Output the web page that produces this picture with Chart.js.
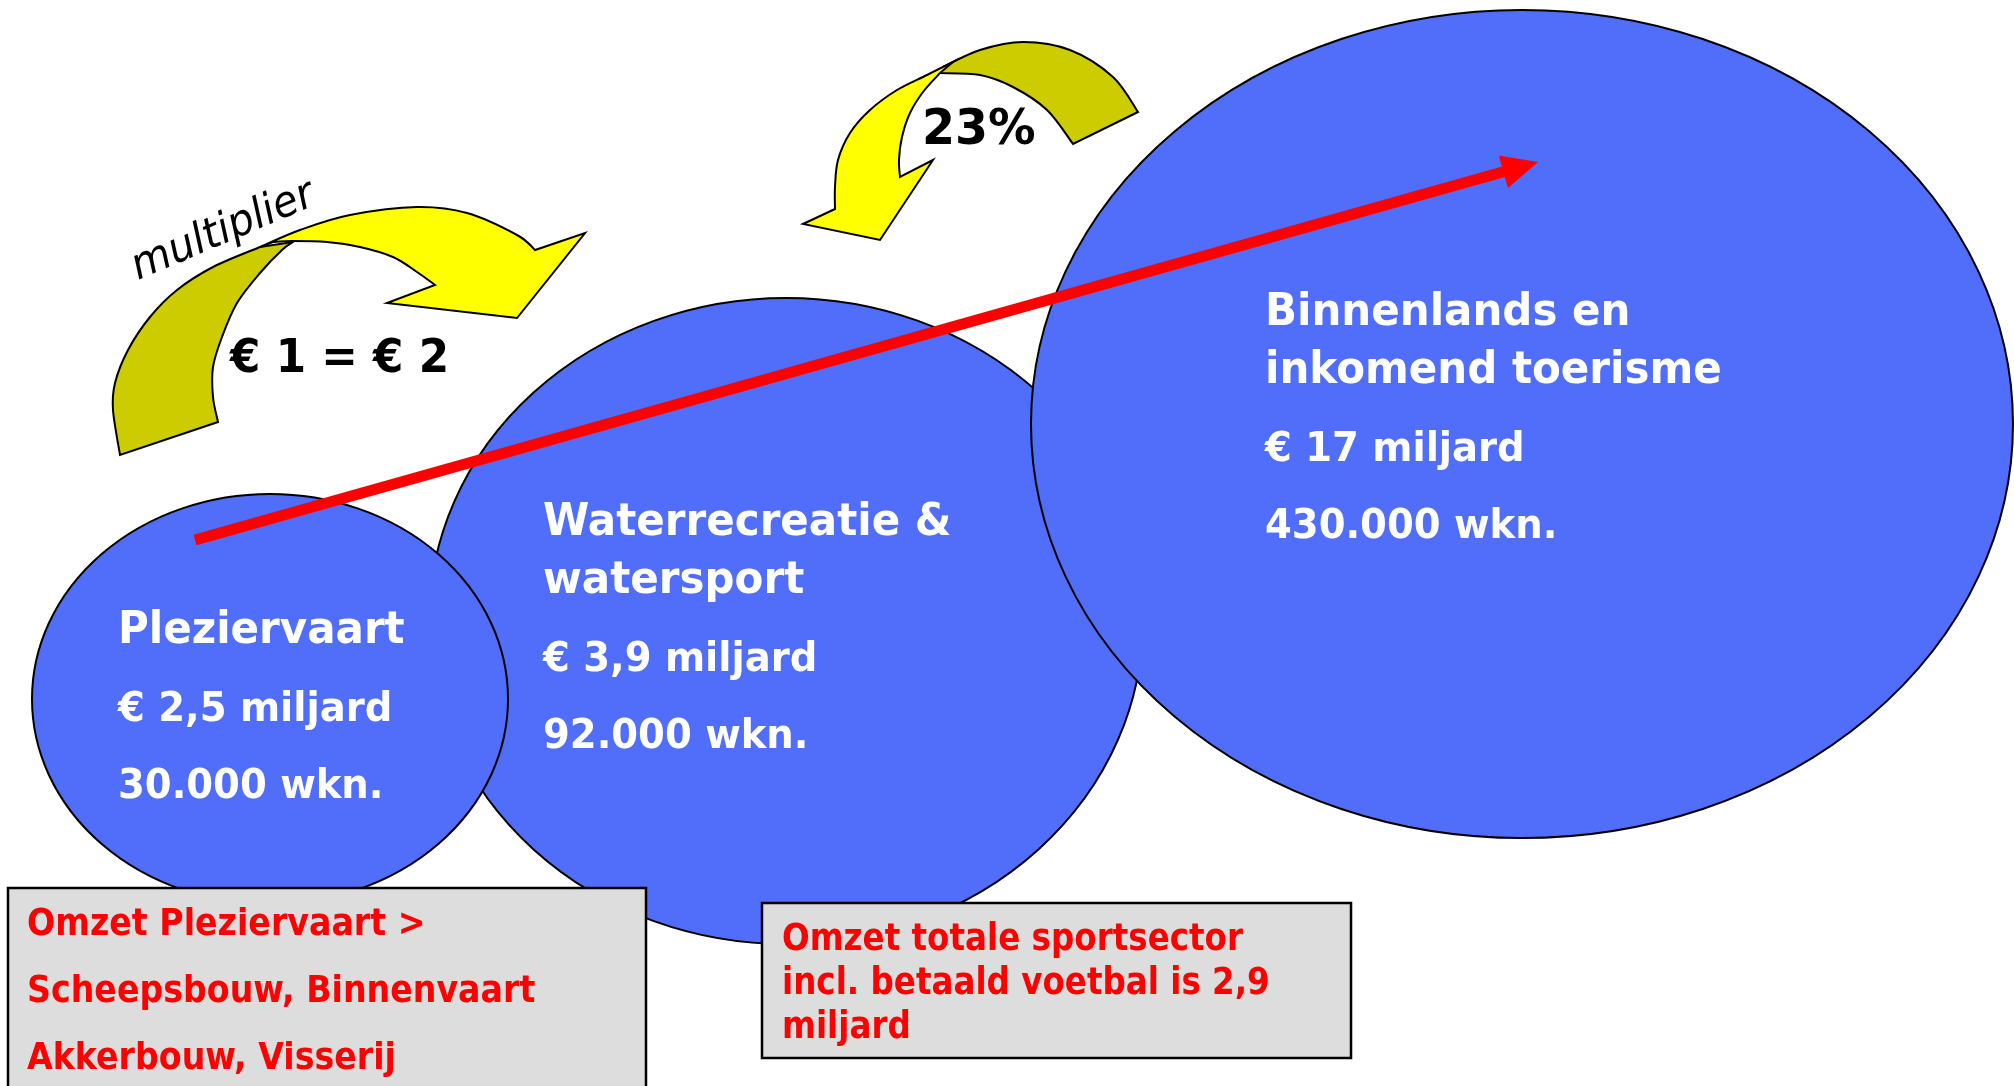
<!DOCTYPE html>
<html>
<head>
<meta charset="utf-8">
<script src="https://cdn.jsdelivr.net/npm/chart.js@4"></script>
<style>
  html, body { margin: 0; padding: 0; background: #ffffff; }
  #wrap { width: 2014px; height: 1086px; position: relative; }
</style>
</head>
<body>
<div id="wrap"><canvas id="diagram"></canvas></div>
<script>
// data
const sectorNames = [['Pleziervaart'], ['Waterrecreatie &', 'watersport'], ['Binnenlands en', 'inkomend toerisme']];
const omzetMiljard = [2.5, 3.9, 17];
const werknemers = [30000, 92000, 430000];
const multiplierText = '€ 1 = € 2';
const shareText = '23%';
const noteLeft = ['Omzet Pleziervaart >', 'Scheepsbouw, Binnenvaart', 'Akkerbouw, Visserij'];
const noteRight = ['Omzet totale sportsector', 'incl. betaald voetbal is 2,9', 'miljard'];

// layout (in axis units, 1 unit = 1px of the 2014x1086 sheet)
const ovalX = [270, 786, 1522];
const ovalY = [699, 621, 424];
const ovalRX = [238, 357, 491];
const ovalRY = [205, 323, 414];
const drawOrder = [1, 0, 2];
const labelX = [118, 543, 1265];
const labelTop = [643, 535, 325];

const BLUE = '#506EFA';
const YELLOW = '#FFFF00';
const OLIVE = '#CCCC00';
const FONT = '"DejaVu Sans", Verdana, sans-serif';

// curved arrow outlines: parts are smooth curves or straight segments
const arrowLeftBack = [
    { smooth: true, pts: [[120, 455], [113, 410], [115, 383], [128, 350], [150, 317], [177, 290], [213, 267], [260, 247]] },
    { smooth: false, pts: [[293, 242]] },
    { smooth: true, pts: [[293, 242], [282, 250], [260, 273], [237, 303], [222, 337], [213, 367], [213, 397], [218, 422]] }
];
const arrowLeftFront = [
    { smooth: true, pts: [[260, 247], [300, 230], [350, 215], [417, 207], [467, 213], [517, 235], [535, 250]] },
    { smooth: false, pts: [[585, 233], [517, 318], [387, 303], [435, 285]] },
    { smooth: true, pts: [[435, 285], [417, 272], [393, 257], [360, 247], [327, 242], [293, 241], [273, 242]] }
];
const arrowTopBack = [
    { smooth: true, pts: [[943, 67], [980, 50], [1023, 42], [1070, 50], [1113, 77], [1138, 112]] },
    { smooth: false, pts: [[1073, 144]] },
    { smooth: true, pts: [[1073, 144], [1047, 110], [1013, 87], [980, 75], [940, 73]] }
];
const arrowTopFront = [
    { smooth: true, pts: [[953, 62], [927, 75], [897, 90], [870, 110], [850, 133], [838, 160], [835, 187], [835, 209]] },
    { smooth: false, pts: [[803, 224], [880, 240], [933, 160], [900, 177]] },
    { smooth: true, pts: [[900, 177], [899, 160], [902, 137], [910, 113], [923, 92], [940, 73]] }
];
const redArrow = { from: [195, 540], to: [1538, 162], width: 11, headLen: 36, headHalf: 17 };

function nl(n) {
    const parts = String(n).split('.');
    return parts[0].replace(/\B(?=(\d{3})+(?!\d))/g, '.') + (parts[1] ? ',' + parts[1] : '');
}

const diagramPlugin = {
    id: 'diagram',
    afterDatasetsDraw(chart) {
        const ctx = chart.ctx;
        const xs = chart.scales.x, ys = chart.scales.y;
        const px = v => xs.getPixelForValue(v);
        const py = v => ys.getPixelForValue(v);
        const meta = chart.getDatasetMeta(0);

        function text(s, x, y, size, sx, color, style) {
            ctx.save();
            ctx.font = (style || 'bold') + ' ' + size + 'px ' + FONT;
            ctx.fillStyle = color;
            ctx.textBaseline = 'alphabetic';
            ctx.translate(px(x), py(y));
            ctx.scale(sx, 1);
            ctx.fillText(s, 0, 0);
            ctx.restore();
        }

        function smoothTo(pts) {
            const p = pts.map(q => [px(q[0]), py(q[1])]);
            for (let i = 0; i < p.length - 1; i++) {
                const p0 = p[i - 1] || p[i], p1 = p[i], p2 = p[i + 1], p3 = p[i + 2] || p[i + 1];
                ctx.bezierCurveTo(
                    p1[0] + (p2[0] - p0[0]) / 6, p1[1] + (p2[1] - p0[1]) / 6,
                    p2[0] - (p3[0] - p1[0]) / 6, p2[1] - (p3[1] - p1[1]) / 6,
                    p2[0], p2[1]);
            }
        }

        function shape(parts, fill) {
            ctx.beginPath();
            const s = parts[0].pts[0];
            ctx.moveTo(px(s[0]), py(s[1]));
            parts.forEach(part => {
                if (part.smooth) smoothTo(part.pts);
                else part.pts.forEach(q => ctx.lineTo(px(q[0]), py(q[1])));
            });
            ctx.closePath();
            ctx.fillStyle = fill;
            ctx.fill();
            ctx.lineWidth = 2;
            ctx.strokeStyle = '#000';
            ctx.lineJoin = 'miter';
            ctx.stroke();
        }

        // ovals
        drawOrder.forEach(i => {
            const el = meta.data[i];
            const rx = Math.abs(px(ovalX[i] + ovalRX[i]) - px(ovalX[i]));
            const ry = Math.abs(py(ovalY[i] + ovalRY[i]) - py(ovalY[i]));
            ctx.beginPath();
            ctx.ellipse(el.x, el.y, rx, ry, 0, 0, Math.PI * 2);
            ctx.fillStyle = BLUE;
            ctx.fill();
            ctx.lineWidth = 2;
            ctx.strokeStyle = '#000';
            ctx.stroke();
        });

        // red growth arrow
        const a = redArrow;
        const dx = a.to[0] - a.from[0], dy = a.to[1] - a.from[1];
        const len = Math.hypot(dx, dy), ux = dx / len, uy = dy / len;
        const bx = a.to[0] - ux * a.headLen, by = a.to[1] - uy * a.headLen;
        ctx.save();
        ctx.strokeStyle = '#FF0000';
        ctx.lineWidth = a.width;
        ctx.lineCap = 'butt';
        ctx.beginPath();
        ctx.moveTo(px(a.from[0]), py(a.from[1]));
        ctx.lineTo(px(bx + ux * 2), py(by + uy * 2));
        ctx.stroke();
        ctx.beginPath();
        ctx.moveTo(px(a.to[0]), py(a.to[1]));
        ctx.lineTo(px(bx - uy * a.headHalf), py(by + ux * a.headHalf));
        ctx.lineTo(px(bx + uy * a.headHalf), py(by - ux * a.headHalf));
        ctx.closePath();
        ctx.fillStyle = '#FF0000';
        ctx.fill();
        ctx.restore();

        // curved arrows
        shape(arrowLeftBack, OLIVE);
        shape(arrowLeftFront, YELLOW);
        shape(arrowTopBack, OLIVE);
        shape(arrowTopFront, YELLOW);

        // oval labels
        sectorNames.forEach((lines, i) => {
            let y = labelTop[i];
            lines.forEach((ln, k) => {
                text(ln, labelX[i], y, 44, 0.955, '#FFFFFF');
                if (k < lines.length - 1) y += 58;
            });
            text('€ ' + nl(omzetMiljard[i]) + ' miljard', labelX[i], y + 78, 41, 0.94, '#FFFFFF');
            text(nl(werknemers[i]) + ' wkn.', labelX[i], y + 155, 41, 0.94, '#FFFFFF');
        });

        text(multiplierText, 230, 372, 47, 0.93, '#000000');
        text(shareText, 922, 144, 50, 0.95, '#000000');

        // "multiplier" rotated
        ctx.save();
        ctx.translate(px(138), py(280));
        ctx.rotate(-23 * Math.PI / 180);
        ctx.scale(0.95, 1);
        ctx.font = 'italic 43px ' + FONT;
        ctx.fillStyle = '#000000';
        ctx.fillText('multiplier', 0, 0);
        ctx.restore();

        // note boxes
        function box(x0, y0, x1, y1) {
            ctx.beginPath();
            ctx.rect(px(x0), py(y0), px(x1) - px(x0), py(y1) - py(y0));
            ctx.fillStyle = '#DDDDDD';
            ctx.fill();
            ctx.lineWidth = 2.5;
            ctx.strokeStyle = '#000';
            ctx.stroke();
        }
        box(8, 888, 646, 1100);
        noteLeft.forEach((ln, k) => text(ln, 27, 935 + k * 67, 38, 0.875, '#FF0000'));
        box(762, 903, 1351, 1058);
        noteRight.forEach((ln, k) => text(ln, 782, 950 + k * 44, 37, 0.88, '#FF0000'));
    }
};

new Chart(document.getElementById('diagram'), {
    type: 'scatter',
    data: {
        datasets: [{
            label: 'Omzet',
            data: ovalX.map((x, i) => ({ x: x, y: ovalY[i] })),
            pointRadius: 0,
            pointHoverRadius: 0
        }]
    },
    options: {
        responsive: true,
        maintainAspectRatio: false,
        animation: false,
        layout: { padding: 0 },
        plugins: { legend: { display: false }, tooltip: { enabled: false } },
        scales: {
            x: { type: 'linear', min: 0, max: 2014, display: false },
            y: { type: 'linear', min: 0, max: 1086, reverse: true, display: false }
        }
    },
    plugins: [diagramPlugin]
});
</script>
</body>
</html>
